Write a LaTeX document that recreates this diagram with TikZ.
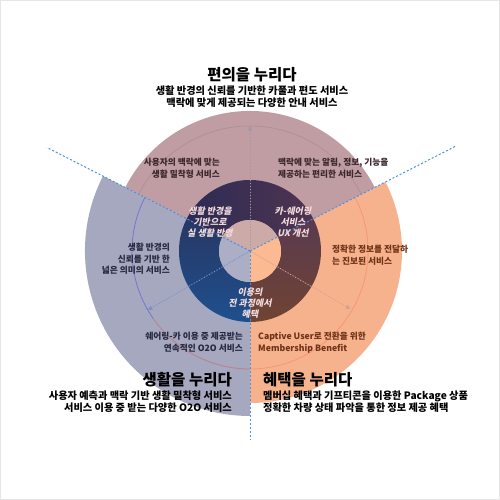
\documentclass[tikz,border=0pt]{standalone}
\usepackage{fontspec}
\setmainfont{Noto Sans CJK KR}
\newfontfamily\slantkr[FakeSlant=0.2]{Noto Sans CJK KR}
\usepackage{xcolor}
\definecolor{secTop}{HTML}{BF9DA2}
\definecolor{secLeft}{HTML}{A6A8BF}
\definecolor{secRight}{HTML}{F6B28C}
\definecolor{inTop}{HTML}{CBAAA8}
\definecolor{inLeft}{HTML}{ACAEC6}
\definecolor{inRight}{HTML}{FBBA91}
\definecolor{guideblue}{HTML}{4A8FE7}
\definecolor{ringtext}{HTML}{F2DCDC}
\definecolor{txtTop}{HTML}{3A262B}
\definecolor{txtLeft}{HTML}{262840}
\definecolor{txtRight}{HTML}{6E3218}
\definecolor{framegray}{HTML}{E6E6E6}
\usetikzlibrary{arrows.meta, positioning}
\tikzset{
    guide/.style={
        draw=guideblue, line width=1pt,
        dash pattern=on 2pt off 2pt
    },
    ray/.style={
        dotted, line width=0.9pt,
        -{Triangle[width=4.5pt,length=4.5pt]}
    },
    orbit/.style={line width=0.8pt},
    head/.style={font=\fontsize{15.5}{17}\selectfont\bfseries, inner sep=0pt},
    subhead/.style={font=\fontsize{10.2}{12}\selectfont\bfseries, inner sep=0pt},
    sectxt/.style={font=\fontsize{8.7}{11.6}\selectfont\bfseries, inner sep=0pt},
    ringtxt/.style={
        font=\fontsize{9}{10.8}\selectfont\slantkr\bfseries,
        text=ringtext, align=center, inner sep=0pt
    },
}

\begin{document}
\begin{tikzpicture}[x=1pt, y=1pt]
    \useasboundingbox (-250,-249) rectangle (250,251);
    \draw[framegray, line width=1.5pt] (-249.25,-248.25) rectangle (249.25,250.25);

    \coordinate (c) at (0,0);

    % sectors
    \fill[secLeft] (c) -- (153:165) arc[start angle=153, end angle=270, radius=165] -- cycle;
    \fill[secRight] (c) -- (-90:152) arc[start angle=-90, end angle=27, radius=152] -- cycle;
    \fill[secTop] (c) -- (27:140) arc[start angle=27, end angle=153, radius=140] -- cycle;

    % thin orbits
    \draw[orbit, draw=blue!15!black!8!secTop] (27:125) arc[start angle=27, end angle=153, radius=125];
    \draw[orbit, draw=blue!30!secLeft] (153:118) arc[start angle=153, end angle=215, radius=118];
    \draw[orbit, draw=red!25!secLeft] (215:118) arc[start angle=215, end angle=270, radius=118];
    \draw[orbit, draw=red!15!secRight] (-90:118) arc[start angle=-90, end angle=27, radius=118];

    % dark ring
    \shade[left color={rgb,255:red,44;green,43;blue,84}, right color={rgb,255:red,80;green,52;blue,80}]
        (27:71) arc[start angle=27, end angle=153, radius=71]
        -- (153:31) arc[start angle=153, end angle=27, radius=31] -- cycle;
    \shade[top color={rgb,255:red,40;green,55;blue,100}, bottom color={rgb,255:red,30;green,80;blue,142}]
        (153:71) arc[start angle=153, end angle=270, radius=71]
        -- (270:31) arc[start angle=270, end angle=153, radius=31] -- cycle;
    \shade[top color={rgb,255:red,90;green,58;blue,80}, bottom color={rgb,255:red,112;green,68;blue,50}]
        (-90:71) arc[start angle=-90, end angle=27, radius=71]
        -- (27:31) arc[start angle=27, end angle=-90, radius=31] -- cycle;

    % inner disc
    \fill[inTop] (c) -- (27:31) arc[start angle=27, end angle=153, radius=31] -- cycle;
    \fill[inLeft] (c) -- (153:31) arc[start angle=153, end angle=270, radius=31] -- cycle;
    \fill[inRight] (c) -- (-90:31) arc[start angle=-90, end angle=27, radius=31] -- cycle;

    % dotted rays
    \coordinate (tipTop) at (90:125);
    \coordinate (tipLeft) at (210:118);
    \coordinate (tipRight) at (330:116);
    \draw[ray, draw={rgb,255:red,160;green,152;blue,170}, fill={rgb,255:red,160;green,152;blue,170}] (c) -- (tipTop);
    \draw[ray, draw={rgb,255:red,125;green,145;blue,200}, fill={rgb,255:red,125;green,145;blue,200}] (c) -- (tipLeft);
    \draw[ray, draw={rgb,255:red,215;green,160;blue,150}, fill={rgb,255:red,215;green,160;blue,150}] (c) -- (tipRight);

    % sector borders
    \coordinate (gLeft) at (153:228);
    \coordinate (gRight) at (27:231);
    \coordinate (gBottom) at (270:189);
    \draw[guide] (c) -- (gLeft);
    \draw[guide] (c) -- (gRight);
    \draw[guide] (c) -- (gBottom);

    % ring labels
    \node[ringtxt] (rTop) at (-40,29) {생활 반경을\\기반으로\\실 생활 반영};
    \node[ringtxt] (rRight) at (43,29) {카-쉐어링\\서비스\\UX 개선};
    \node[ringtxt] (rBottom) at (0,-52) {이용의\\전 과정에서\\혜택};

    % sector labels
    \node[sectxt, text=txtTop, align=right, anchor=east] (tTopL) at (-30,82.5) {사용자의 맥락에 맞는\\생활 밀착형 서비스};
    \node[sectxt, text=txtTop, align=left, anchor=west] (tTopR) at (28,82.5) {맥락에 맞는 알림, 정보, 기능을\\제공하는 편리한 서비스};
    \node[sectxt, text=txtLeft, align=right, anchor=east] (tLeftM) at (-80,-8) {생활 반경의\\신뢰를 기반 한\\넓은 의미의 서비스};
    \node[sectxt, text=txtLeft, align=right, anchor=east] (tLeftB) at (-7,-91.5) {쉐어링-카 이용 중 제공받는\\연속적인 O2O 서비스};
    \node[sectxt, text=txtRight, align=left, anchor=west] (tRightM) at (82,-4) {정확한 정보를 전달하\\는 진보된 서비스};
    \node[sectxt, text=txtRight, align=left, anchor=west] (tRightB) at (8,-92) {Captive User로 전환을 위한\\Membership Benefit};

    % headings
    \node[head] (hTop) at (2,176) {편의을 누리다};
    \node[subhead, align=center, below=3pt of hTop] (sTop) {생활 반경의 신뢰를 기반한 카풀과 편도 서비스\\맥락에 맞게 제공되는 다양한 안내 서비스};
    \node[head, anchor=east] (hLeft) at (-18,-129) {생활을 누리다};
    \node[subhead, align=right, anchor=north east] (sLeft) at ([yshift=-3pt]hLeft.south east) {사용자 예측과 맥락 기반 생활 밀착형 서비스\\서비스 이용 중 받는 다양한 O2O 서비스};
    \node[head, anchor=west] (hRight) at (13,-129) {혜택을 누리다};
    \node[subhead, align=left, anchor=north west] (sRight) at ([yshift=-3pt]hRight.south west) {멤버십 혜택과 기프티콘을 이용한 Package 상품\\정확한 차량 상태 파악을 통한 정보 제공 혜택};
\end{tikzpicture}
\end{document}
